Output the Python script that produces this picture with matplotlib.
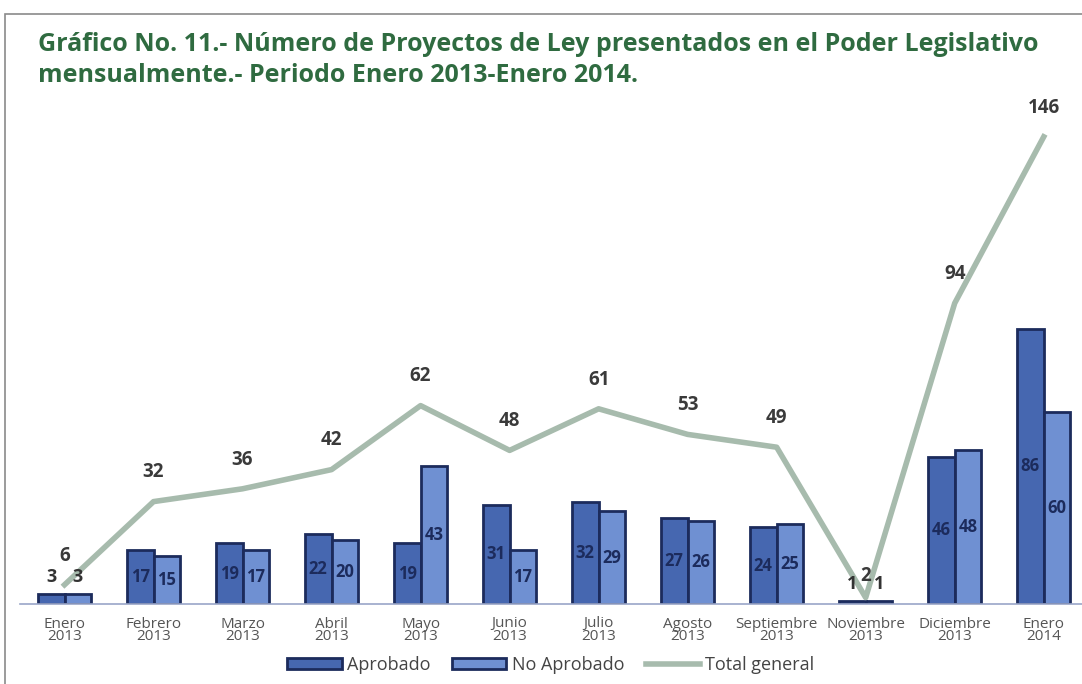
import numpy as np
import matplotlib.pyplot as plt
from matplotlib.patches import Rectangle

plt.rcParams['font.family'] = ['Open Sans', 'DejaVu Sans']

# Daten
meses = ["Enero\n2013", "Febrero\n2013", "Marzo\n2013", "Abril\n2013", "Mayo\n2013",
         "Junio\n2013", "Julio\n2013", "Agosto\n2013", "Septiembre\n2013",
         "Noviembre\n2013", "Diciembre\n2013", "Enero\n2014"]
aprobado = [3, 17, 19, 22, 19, 31, 32, 27, 24, 1, 46, 86]
no_aprobado = [3, 15, 17, 20, 43, 17, 29, 26, 25, 1, 48, 60]
total = [6, 32, 36, 42, 62, 48, 61, 53, 49, 2, 94, 146]

c_apr = "#4667b0"
c_noapr = "#6f90d2"
c_edge = "#1c2b5c"
c_line = "#a7bbad"
c_title = "#2f6b40"

fig = plt.figure(figsize=(10.82, 6.84), dpi=100)
ax = fig.add_axes([20/1082, 80/684, 1062/1082, 504/684])

x = np.arange(len(meses))
w = 0.3
b1 = ax.bar(x - w/2, aprobado, w, color=c_apr, edgecolor=c_edge, linewidth=2,
            label="Aprobado", zorder=2)
b2 = ax.bar(x + w/2, no_aprobado, w, color=c_noapr, edgecolor=c_edge, linewidth=2,
            label="No Aprobado", zorder=2)
ln, = ax.plot(x, total, color=c_line, linewidth=4, label="Total general", zorder=3)

# Beschriftung der Balken
for bars in (b1, b2):
    for r in bars:
        v = r.get_height()
        cx = r.get_x() + r.get_width() / 2
        if v < 5:
            ax.text(cx, v + 2.5, str(int(v)), ha="center", va="bottom",
                    fontsize=13, fontweight="bold", color="#333333", zorder=4)
        else:
            ax.text(cx, v / 2, str(int(v)), ha="center", va="center",
                    fontsize=12, fontweight="bold", color=c_edge, zorder=4)

# Beschriftung der Linie
for xi, t in zip(x, total):
    off = 6 if t > 5 else 3.5
    ax.text(xi, t + off, str(t), ha="center", va="bottom", fontsize=13.5,
            fontweight="bold", color="#3a3a3a", zorder=4)

ax.set_xlim(-0.5, 11.43)
ax.set_ylim(0, 157.5)
ax.set_xticks(x)
ax.set_xticklabels(meses, fontsize=11, color="#555555", linespacing=0.8)
ax.tick_params(axis="x", length=0, pad=9)
ax.set_yticks([])
for s in ["top", "right", "left"]:
    ax.spines[s].set_visible(False)
ax.spines["bottom"].set_color("#9aa6c8")
ax.spines["bottom"].set_linewidth(1.2)

ax.legend([b1, b2, ln], ["Aprobado", "No Aprobado", "Total general"],
          loc="upper center", bbox_to_anchor=(0.5, -0.07), ncol=3, frameon=False,
          fontsize=13, handlelength=3.0, handleheight=0.55, columnspacing=1.2,
          handletextpad=0.3, labelcolor="#444444")

# Titel
fig.text(38/1082, 1 - 60/684, "Gráfico No. 11.- Número de Proyectos de Ley presentados en el Poder Legislativo\nmensualmente.- Periodo Enero 2013-Enero 2014.",
         ha="left", va="center", fontsize=18, fontweight="bold", color=c_title,
         linespacing=1.3)

# Rahmen
fig.patches.append(Rectangle((5/1082, -0.01), 1.1, 1 - 14/684 + 0.01,
                             transform=fig.transFigure, fill=False,
                             edgecolor="#8a8a8a", linewidth=1.2))

fig.savefig("out.png", dpi=100)
